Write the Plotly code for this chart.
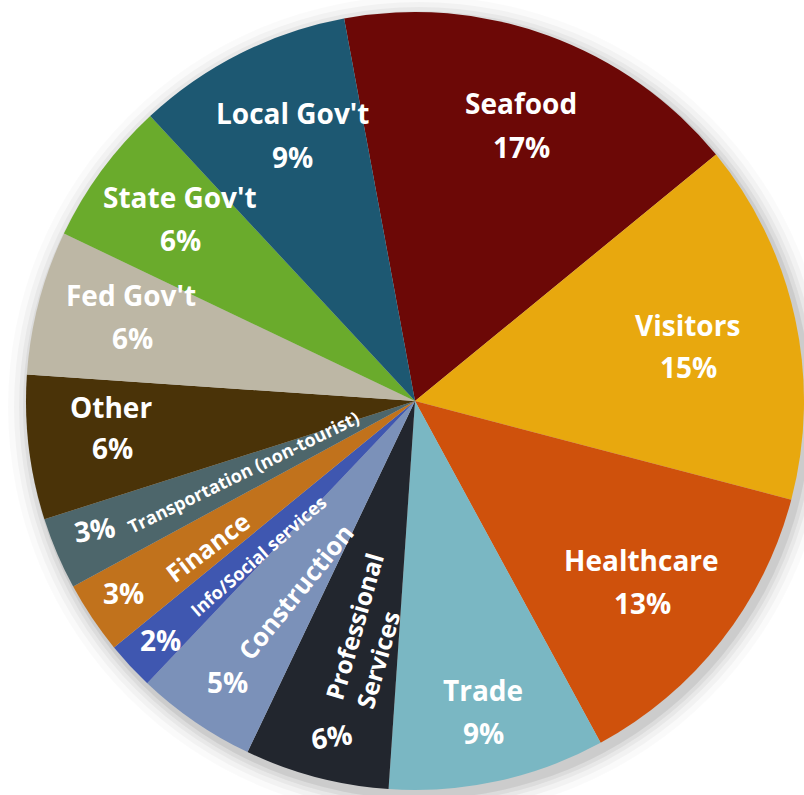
import plotly.graph_objects as go

W, H = 804, 795

# ---- data ----
sectors = ["Seafood", "Visitors", "Healthcare", "Trade", "Professional Services",
           "Construction", "Info/Social services", "Finance",
           "Transportation (non-tourist)", "Other", "Fed Gov't", "State Gov't", "Local Gov't"]
shares = [17, 15, 13, 9, 6, 5, 2, 3, 3, 6, 6, 6, 9]
colors = ["#6c0806", "#e8a80e", "#cf510c", "#7ab7c3", "#22262e",
          "#7b91b9", "#3f57b0", "#c1721c", "#4d666b", "#4a3308", "#bdb7a5", "#6aab2c", "#1d5872"]

# ---- label placement (pixel positions, rotation, font size) ----
name_pos = {
    "Seafood": (521, 103, 0, 28),
    "Visitors": (687, 325, 0, 28),
    "Healthcare": (641, 560, 0, 28),
    "Trade": (483, 690, 0, 28),
    "Professional Services": (369, 631, -74, 24.5),
    "Construction": (295, 592, -51, 25.5),
    "Info/Social services": (258, 556, -41, 18),
    "Finance": (207, 547, -37, 25),
    "Transportation (non-tourist)": (243, 472, -26, 18),
    "Other": (111, 407, 0, 28),
    "Fed Gov't": (131, 295, 0, 28),
    "State Gov't": (180, 197, 0, 28),
    "Local Gov't": (292, 113, 0, 28),
}
pct_pos = {
    "Seafood": (521, 147, 0),
    "Visitors": (688, 367, 0),
    "Healthcare": (642, 603, 0),
    "Trade": (483, 733, 0),
    "Professional Services": (331, 736, -8),
    "Construction": (227, 682, 0),
    "Info/Social services": (160, 640, 0),
    "Finance": (123, 593, 0),
    "Transportation (non-tourist)": (94, 529, -8),
    "Other": (112, 448, 0),
    "Fed Gov't": (132, 338, 0),
    "State Gov't": (180, 240, 0),
    "Local Gov't": (292, 157, 0),
}
display_name = {"Professional Services": "Professional<br>Services"}

FONT = "'Open Sans', Lato, sans-serif"

def px(x, y):
    return x / W, 1 - y / H

# pie geometry in pixels
X0, TOP = 26, 7
fig = go.Figure()
fig.add_trace(go.Pie(
    labels=sectors, values=shares, sort=False, direction="clockwise",
    rotation=-10.5,
    marker=dict(colors=colors, line=dict(width=0)),
    textinfo="none", hoverinfo="label+percent", showlegend=False,
    domain=dict(x=[X0 / W, 1.0], y=[0.0, 1 - TOP / H]),
))

annotations = []
for s in sectors:
    x, y, ang, size = name_pos[s]
    ax, ay = px(x, y)
    annotations.append(dict(
        x=ax, y=ay, xref="paper", yref="paper", showarrow=False,
        text=display_name.get(s, s), textangle=ang, align="left",
        font=dict(family=FONT, size=size, color="white", weight="bold"),
        xanchor="center", yanchor="middle",
    ))
    x, y, ang = pct_pos[s]
    ax, ay = px(x, y)
    annotations.append(dict(
        x=ax, y=ay, xref="paper", yref="paper", showarrow=False,
        text=f"{shares[sectors.index(s)]}%", textangle=ang,
        font=dict(family=FONT, size=28, color="white", weight="bold"),
        xanchor="center", yanchor="middle",
    ))

# soft shadow halo behind the pie
cx, cy = (X0 + W) / 2, TOP + (H - TOP) / 2
r = min(W - X0, H - TOP) / 2
shapes = []
for d, op in [(22, 0.02), (16, 0.03), (11, 0.04), (7, 0.05), (3, 0.07)]:
    x0, y1 = px(cx - r - d + 4, cy - r - d + 6)
    x1, y0 = px(cx + r + d + 4, cy + r + d + 6)
    shapes.append(dict(type="circle", xref="paper", yref="paper",
                       x0=x0, x1=x1, y0=y0, y1=y1, layer="below",
                       fillcolor=f"rgba(0,0,0,{op})", line=dict(width=0)))

fig.update_layout(
    width=W, height=H, margin=dict(l=0, r=0, t=0, b=0),
    paper_bgcolor="white", plot_bgcolor="white",
    annotations=annotations, shapes=shapes,
)

fig.write_html("out.html")
